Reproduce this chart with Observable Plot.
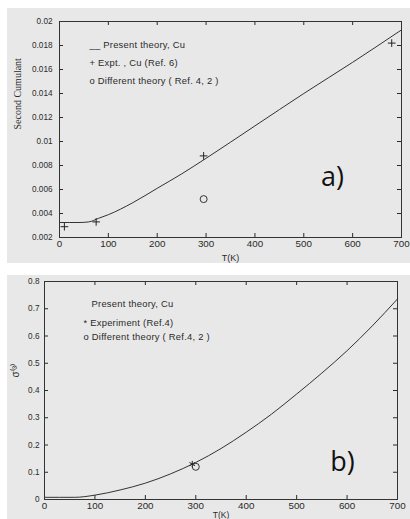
<!DOCTYPE html>
<html>
<head>
<meta charset="utf-8">
<script src="https://cdn.jsdelivr.net/npm/d3@7"></script>
<script src="https://cdn.jsdelivr.net/npm/@observablehq/plot@0.6"></script>
<style>
  html, body { margin: 0; padding: 0; background: #ffffff; overflow: hidden; width: 410px; height: 519px; }
  .panel { position: absolute; left: 7px; width: 403px; background: #e8e8e8; overflow: hidden; }
  #pa { top: 8px; height: 255px; }
  #pb { top: 275px; height: 244px; }
  .panel svg { display: block; }
  .legend text { letter-spacing: 0.25px; }
</style>
</head>
<body>
<div class="panel" id="pa"></div>
<div class="panel" id="pb"></div>
<script>
// ---------- Panel a) data ----------
const curveA_T = [0, 40, 60, 80, 100, 150, 200, 250, 300, 400, 500, 600, 700];
const curveA_V = [0.00325, 0.00325, 0.0033, 0.0036, 0.0039, 0.0049, 0.0061, 0.0073, 0.0086, 0.0113, 0.0140, 0.0166, 0.0193];
const exptA_T = [10, 75, 295, 680];
const exptA_V = [0.0029, 0.0033, 0.0088, 0.0182];
const diffA_T = [295];
const diffA_V = [0.0052];
const xTicks = [0, 100, 200, 300, 400, 500, 600, 700];
const yTicksA = [0.002, 0.004, 0.006, 0.008, 0.01, 0.012, 0.014, 0.016, 0.018, 0.02];
const legendA = ["__ Present theory, Cu", "+ Expt. , Cu (Ref. 6)", "o Different theory ( Ref. 4, 2 )"];

// ---------- Panel b) data ----------
const curveB_T = [0, 60, 100, 150, 200, 250, 300, 350, 400, 450, 500, 550, 600, 650, 700];
const curveB_V = [0.008, 0.008, 0.016, 0.035, 0.060, 0.094, 0.136, 0.187, 0.247, 0.313, 0.387, 0.464, 0.546, 0.637, 0.736];
const exptB_T = [293];
const exptB_V = [0.13];
const diffB_T = [300];
const diffB_V = [0.12];
const yTicksB = [0, 0.1, 0.2, 0.3, 0.4, 0.5, 0.6, 0.7, 0.8];
const legendB = ["Present theory, Cu", "* Experiment (Ref.4)", "o Different theory ( Ref.4, 2 )"];

const zip = (T, V) => T.map((t, i) => ({T: t, v: V[i]}));
const fmt = d => String(+d.toFixed(4));
const ink = "#2a2a2a";
const sans = "'Liberation Sans', Arial, sans-serif";

function panel({width, height, mt, mr, mb, ml, yDomain, yTicks, curve, expt, exptSymbol, exptR, diff, legend, legendPos, yLabel, yLabelFont, yLabelSize, yLabelDx, yLabelDy, xLabelDy, xLabelSize, tag, tagDx, tagDy, xPad, yPad}) {
  const fw = width - ml - mr, fh = height - mt - mb;
  const innerX = xTicks.slice(1, -1);
  const innerY = yTicks.slice(1, -1);
  const marks = [
    // inward ticks (MATLAB style) on all four sides
    Plot.ruleX(innerX, {x: d => d, insetTop: fh - 4, stroke: ink}),
    Plot.ruleX(innerX, {x: d => d, insetBottom: fh - 4, stroke: ink}),
    Plot.ruleY(innerY, {y: d => d, insetRight: fw - 4, stroke: ink}),
    Plot.ruleY(innerY, {y: d => d, insetLeft: fw - 4, stroke: ink}),
    Plot.axisX(xTicks, {tickSize: 0, tickPadding: xPad, tickFormat: fmt, label: null, fill: ink, fontSize: 9.8}),
    Plot.axisY(yTicks, {tickSize: 0, tickPadding: yPad, tickFormat: fmt, label: null, fill: ink, fontSize: 8.2}),
    Plot.line(curve, {x: "T", y: "v", curve: "monotone-x", stroke: "#333", strokeWidth: 1}),
    Plot.dot(expt, {x: "T", y: "v", symbol: exptSymbol, r: exptR, stroke: "#222", strokeWidth: 1}),
    Plot.dot(diff, {x: "T", y: "v", r: 3.5, stroke: "#333", fill: "none", strokeWidth: 1}),
    Plot.frame({stroke: "#333", strokeWidth: 1}),
    Plot.text(["T(K)"], {text: d => d, frameAnchor: "bottom", dy: xLabelDy, fontSize: xLabelSize, fill: ink, lineAnchor: "middle"}),
    Plot.text([yLabel], {text: d => d, frameAnchor: "left", dx: yLabelDx, dy: yLabelDy, rotate: -90, fontSize: yLabelSize, fontFamily: yLabelFont, fill: ink, lineAnchor: "middle"}),
    Plot.text([tag], {text: d => d, frameAnchor: "bottom-right", dx: tagDx, dy: tagDy, fontSize: 27, fontFamily: "'Open Sans', sans-serif", fill: "#111", textAnchor: "middle", lineAnchor: "middle"})
  ];
  legend.forEach((s, i) => {
    marks.push(Plot.text([s], {text: d => d, frameAnchor: "top-left", dx: legendPos[i][0], dy: legendPos[i][1], fontSize: 9.4, fill: ink, textAnchor: "start", lineAnchor: "middle", className: "legend"}));
  });
  return Plot.plot({
    width, height,
    marginTop: mt, marginRight: mr, marginBottom: mb, marginLeft: ml,
    style: {background: "transparent", fontFamily: sans, fontSize: "9px", color: ink},
    x: {domain: [0, 700]},
    y: {domain: yDomain},
    marks
  });
}

document.getElementById("pa").append(panel({
  width: 403, height: 255, mt: 13, mr: 9, mb: 26, ml: 52,
  yDomain: [0.002, 0.02], yTicks: yTicksA,
  curve: zip(curveA_T, curveA_V), expt: zip(exptA_T, exptA_V), exptSymbol: "plus", exptR: 2.6,
  diff: zip(diffA_T, diffA_V),
  legend: legendA, legendPos: [[30, 23], [30, 41], [30, 59]],
  yLabel: "Second Cumulant", yLabelFont: "'Liberation Serif', 'Times New Roman', serif", yLabelSize: 10, yLabelDx: -42, yLabelDy: 0,
  xLabelDy: 21, xLabelSize: 9, tag: "a)", tagDx: -69, tagDy: -60, xPad: 3, yPad: 7
}));

document.getElementById("pb").append(panel({
  width: 403, height: 250, mt: 6, mr: 13, mb: 26, ml: 37,
  yDomain: [0, 0.8], yTicks: yTicksB,
  curve: zip(curveB_T, curveB_V), expt: zip(exptB_T, exptB_V), exptSymbol: "asterisk", exptR: 3,
  diff: zip(diffB_T, diffB_V),
  legend: legendB, legendPos: [[47, 22], [39, 41], [39, 55]],
  yLabel: "σ⁽³⁾", yLabelFont: sans, yLabelSize: 10, yLabelDx: -29, yLabelDy: -13,
  xLabelDy: 16, xLabelSize: 8.5, tag: "b)", tagDx: -55, tagDy: -37, xPad: 3, yPad: 5
}));
</script>
</body>
</html>
